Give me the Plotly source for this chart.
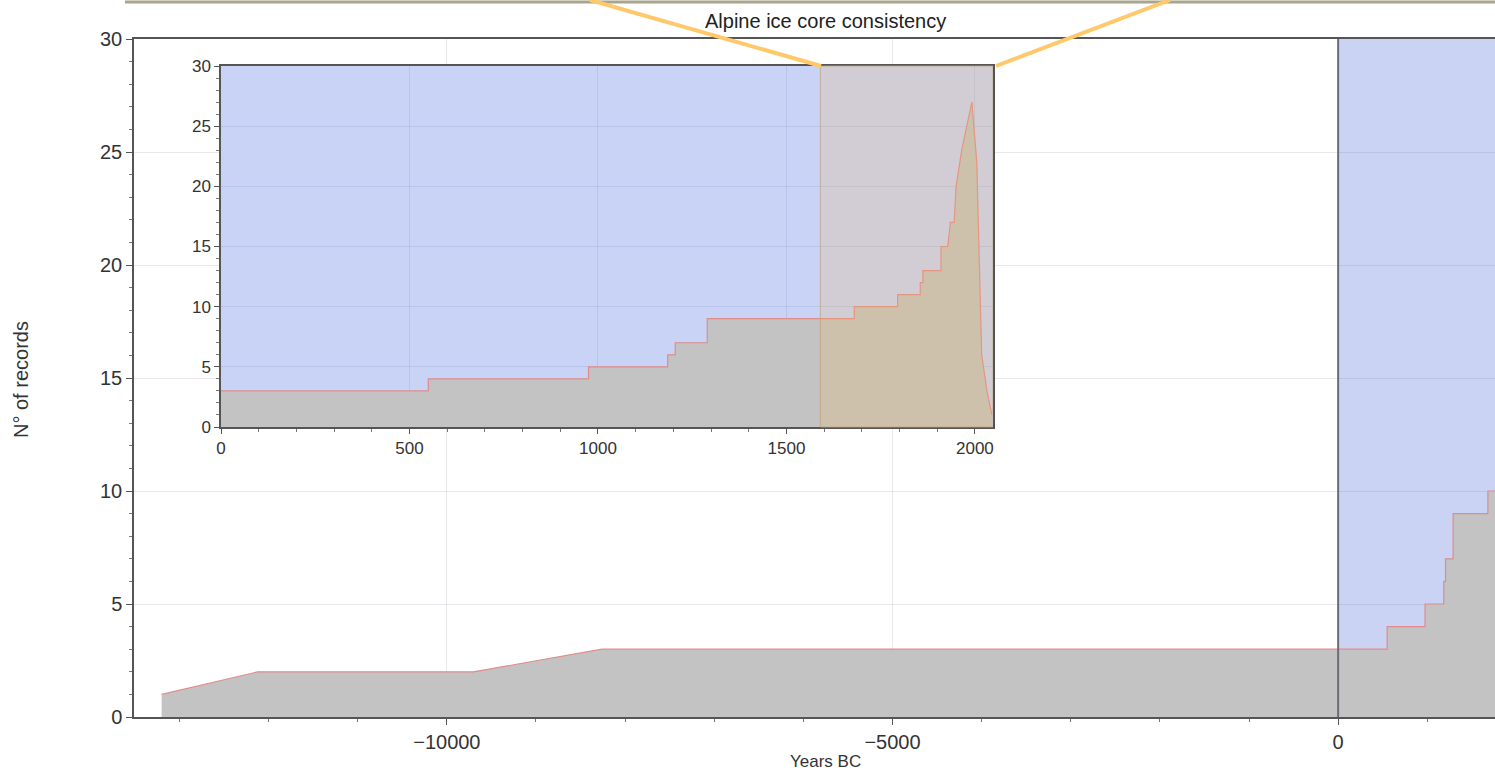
import plotly.graph_objects as go

# Number of records through time (negative = BC)
years = [-13200, -12120, -9700, -8260, 550, 550, 975, 975, 1185, 1185, 1205, 1205,
         1290, 1290, 1680, 1680, 1795, 1795, 1855, 1855, 1862, 1862, 1910, 1910,
         1928, 1935, 1945, 1950, 1965, 1978, 1992, 2005, 2018, 2032, 2045]
records = [1, 2, 2, 3, 3, 4, 4, 5, 5, 6, 6, 7,
           7, 9, 9, 10, 10, 11, 11, 12, 12, 13, 13, 15,
           15, 17, 17, 20, 23, 25, 27, 22, 6, 3, 1]

MAIN_RANGE = (-13510, 1760)
INSET_RANGE = (0, 2048)
Y_RANGE = (0, 30)
HIGHLIGHT = (1590, 2048)

FONT = "Liberation Sans, Arial, sans-serif"
GRAY_FILL = "#c3c3c3"
RED_LINE = "#e08c8c"
BLUE = "#cad3f3"
BLUE_SEMI = "rgba(100,128,228,0.35)"
GRID = "rgba(110,110,140,0.16)"

# figure geometry in pixels
W, H = 1495, 771
L, R, T, B = 134, 0, 39, 54
plot_w = W - L - R
plot_h = H - T - B


def px_x(px):
    return (px - L) / plot_w


def px_y(py):
    return (H - B - py) / plot_h


inset_x = [px_x(221), px_x(993)]
inset_y = [px_y(427), px_y(66)]

fig = go.Figure()

fig.add_trace(go.Scatter(
    x=years, y=records, mode="lines", fill="tozeroy",
    fillcolor=GRAY_FILL, line=dict(color=RED_LINE, width=1.2),
    xaxis="x", yaxis="y", showlegend=False, hoverinfo="skip",
))
# AD period background of the inset (a trace so it sits above the inset's own bg)
fig.add_trace(go.Scatter(
    x=[INSET_RANGE[0], INSET_RANGE[1], INSET_RANGE[1], INSET_RANGE[0]],
    y=[Y_RANGE[0], Y_RANGE[0], Y_RANGE[1], Y_RANGE[1]],
    mode="none", fill="toself", fillcolor=BLUE_SEMI,
    xaxis="x2", yaxis="y2", showlegend=False, hoverinfo="skip",
))
fig.add_trace(go.Scatter(
    x=years, y=records, mode="lines", fill="tozeroy",
    fillcolor=GRAY_FILL, line=dict(color=RED_LINE, width=1.2),
    xaxis="x2", yaxis="y2", showlegend=False, hoverinfo="skip",
))

# AD period shading in the main panel
fig.add_shape(type="rect", xref="x", yref="y domain", x0=0, x1=INSET_RANGE[1],
              y0=0, y1=1, fillcolor=BLUE, line_width=0, layer="below")
fig.add_shape(type="line", xref="x", yref="y domain", x0=0, x1=0, y0=0, y1=1,
              line=dict(color="#6c6c78", width=2), layer="above")
# highlighted window
fig.add_shape(type="rect", xref="x2", yref="y2 domain", x0=HIGHLIGHT[0],
              x1=HIGHLIGHT[1], y0=0, y1=1, fillcolor="rgba(240,185,90,0.22)",
              line=dict(color="rgba(190,165,115,0.7)", width=1), layer="above")

# bottom edge of the panel above and zoom connectors
fig.add_shape(type="line", xref="paper", yref="paper", x0=px_x(125), x1=1,
              y0=px_y(2), y1=px_y(2), line=dict(color="#a8a58c", width=3))
fig.add_shape(type="line", xref="paper", yref="paper", x0=px_x(590), y0=px_y(0),
              x1=px_x(821), y1=inset_y[1], line=dict(color="#ffc86a", width=4))
fig.add_shape(type="line", xref="paper", yref="paper", x0=px_x(1170), y0=px_y(0),
              x1=px_x(996), y1=inset_y[1], line=dict(color="#ffc86a", width=4))

axis_common = dict(
    showline=True, linecolor="#555", linewidth=1.5, ticks="outside",
    tickcolor="#555", showgrid=True, gridcolor=GRID, zeroline=False,
    tickformat="d",
)

fig.update_layout(
    width=W, height=H,
    margin=dict(l=L, r=R, t=T, b=B),
    paper_bgcolor="white", plot_bgcolor="white",
    font=dict(family=FONT, color="#333"),
    xaxis=dict(
        **axis_common, range=list(MAIN_RANGE), tick0=0, dtick=5000, ticklen=6,
        mirror=True, tickfont=dict(size=20),
        minor=dict(dtick=1000, ticks="outside", ticklen=3, tickcolor="#777",
                   showgrid=False),
    ),
    yaxis=dict(
        **axis_common, range=list(Y_RANGE), dtick=5, ticklen=6,
        tickfont=dict(size=20),
        minor=dict(dtick=1, ticks="outside", ticklen=3, tickcolor="#777",
                   showgrid=False),
    ),
    xaxis2=dict(
        **axis_common, domain=inset_x, anchor="y2", range=list(INSET_RANGE),
        tick0=0, dtick=500, ticklen=5, mirror=True, tickfont=dict(size=17),
        minor=dict(dtick=100, ticks="outside", ticklen=3, tickcolor="#777",
                   showgrid=False),
    ),
    yaxis2=dict(
        **axis_common, domain=inset_y, anchor="x2", range=list(Y_RANGE), dtick=5,
        ticklen=5, mirror=True, tickfont=dict(size=17),
        minor=dict(dtick=1, ticks="outside", ticklen=3, tickcolor="#777",
                   showgrid=False),
    ),
    annotations=[
        dict(text="Alpine ice core consistency", xref="paper", yref="paper",
             x=px_x(825), y=px_y(21), xanchor="center", yanchor="middle",
             showarrow=False, font=dict(size=20, color="#222")),
        dict(text="Years BC", xref="paper", yref="paper", x=px_x(825),
             y=px_y(750), xanchor="center", yanchor="top", showarrow=False,
             font=dict(size=17, color="#333")),
        dict(text="N° of records", xref="paper", yref="paper", x=px_x(21),
             y=px_y(380), xanchor="center", yanchor="middle", textangle=-90,
             showarrow=False, font=dict(size=20, color="#333")),
    ],
)

# drop the default body margin so the figure sits at the window origin
fig.write_html("out.html", config={"displayModeBar": False},
               post_script="document.body.style.margin = '0';")
